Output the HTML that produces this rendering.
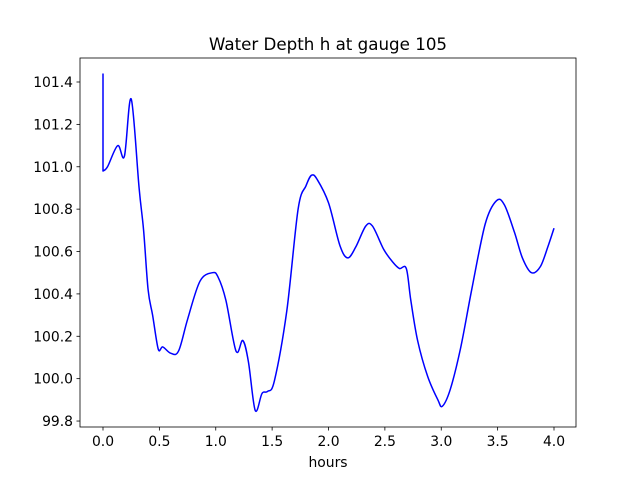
<!DOCTYPE html>
<html><head><meta charset="utf-8"><style>
body{margin:0;background:#fff;font-family:"DejaVu Sans","Liberation Sans",sans-serif;}
</style></head><body>
<svg width="640" height="480" viewBox="0 0 640 480" xmlns="http://www.w3.org/2000/svg">
<rect width="640" height="480" fill="#fff"/>
<g id="plot"></g>
</svg>
<script>
const hours=[0,0,0.04,0.13,0.19,0.25,0.32,0.36,0.4,0.44,0.49,0.53,0.6,0.67,0.75,0.86,0.97,1.02,1.09,1.18,1.24,1.29,1.35,1.41,1.46,1.52,1.63,1.73,1.8,1.85,1.9,2.0,2.1,2.17,2.24,2.33,2.39,2.49,2.57,2.63,2.69,2.73,2.79,2.88,2.97,3.01,3.08,3.17,3.27,3.39,3.49,3.56,3.65,3.72,3.8,3.88,3.95,4.0];
const depth=[101.44,100.98,101.0,101.1,101.05,101.32,100.9,100.7,100.42,100.3,100.14,100.15,100.12,100.13,100.28,100.46,100.5,100.48,100.37,100.13,100.18,100.08,99.85,99.93,99.94,99.99,100.32,100.8,100.91,100.96,100.94,100.83,100.63,100.57,100.62,100.72,100.72,100.61,100.55,100.52,100.52,100.37,100.18,100.01,99.9,99.87,99.95,100.14,100.42,100.73,100.84,100.82,100.69,100.57,100.5,100.53,100.63,100.71];
const xTicks=[0,0.5,1,1.5,2,2.5,3,3.5,4];
const yTicks=[99.8,100.0,100.2,100.4,100.6,100.8,101.0,101.2,101.4];
const L=80,R=576,T=58,B=427;
const xs=v=>103+v*112.75;
const ys=v=>82+(101.4-v)*211.9;
const NS="http://www.w3.org/2000/svg";
const g=document.getElementById('plot');
function mk(t,a){const e=document.createElementNS(NS,t);for(const k in a)e.setAttribute(k,a[k]);g.appendChild(e);return e;}
const P=hours.map((h,i)=>[xs(h),ys(depth[i])]);
let d='M'+P[0][0]+','+P[0][1]+'L'+P[1][0]+','+P[1][1];
for(let i=1;i<P.length-1;i++){
  const p0=P[Math.max(1,i-1)],p1=P[i],p2=P[i+1],p3=P[Math.min(P.length-1,i+2)];
  const c1=[p1[0]+(p2[0]-p0[0])/6,p1[1]+(p2[1]-p0[1])/6];
  const c2=[p2[0]-(p3[0]-p1[0])/6,p2[1]-(p3[1]-p1[1])/6];
  d+='C'+c1[0].toFixed(1)+','+c1[1].toFixed(1)+' '+c2[0].toFixed(1)+','+c2[1].toFixed(1)+' '+p2[0].toFixed(1)+','+p2[1].toFixed(1);
}
const line=mk('path',{d:d,fill:'none',stroke:'#0000ff','stroke-width':1.5,'stroke-linejoin':'round'});


const frame=mk('rect',{x:L,y:T,width:R-L,height:B-T,fill:'none',stroke:'#000','stroke-width':0.8});


xTicks.forEach(v=>{const x=xs(v);mk('line',{x1:x,x2:x,y1:B,y2:B+3.5,stroke:'#000','stroke-width':0.8});
const t=mk('text',{x:x,y:B+19,'font-size':13.9,'text-anchor':'middle'});t.textContent=v.toFixed(1);

});
yTicks.forEach(v=>{const y=ys(v);mk('line',{x1:L-3.5,x2:L,y1:y,y2:y,stroke:'#000','stroke-width':0.8});
const t=mk('text',{x:L-7,y:y+5,'font-size':13.9,'text-anchor':'end'});t.textContent=v.toFixed(1);

});
const ti=mk('text',{x:328,y:50,'font-size':16.7,'text-anchor':'middle'});ti.textContent='Water Depth h at gauge 105';


const xl=mk('text',{x:328,y:467,'font-size':13.9,'text-anchor':'middle'});xl.textContent='hours';


</script>
</body></html>
